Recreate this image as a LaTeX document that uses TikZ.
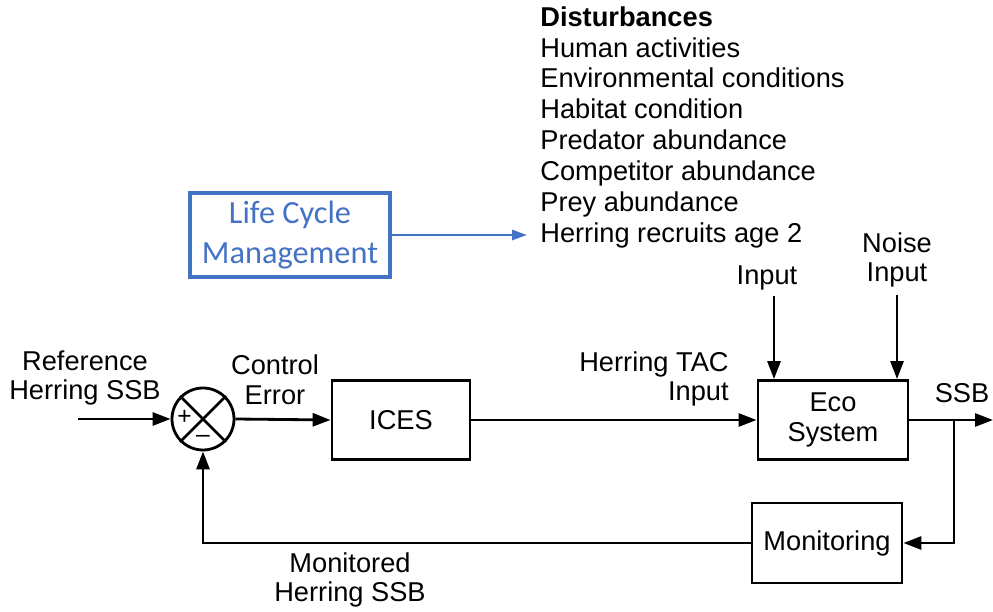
\documentclass[tikz,border=0pt]{standalone}
\usepackage{fontspec}
\setmainfont{Liberation Sans}
\newfontfamily\calibri{Carlito}
\usetikzlibrary{arrows.meta,positioning}
\definecolor{lcmblue}{RGB}{68,114,196}
\begin{document}
\begin{tikzpicture}[
  font=\fontsize{15.5}{17}\selectfont,
  blk/.style={draw, line width=1.6pt, align=center, minimum width=3cm, minimum height=1.58cm},
  lbl/.style={align=center, inner sep=0pt},
  sig/.style={line width=1.6pt, -{Triangle[length=0.36cm,width=0.26cm]}},
  ln/.style={line width=1.6pt}]
\useasboundingbox (0,0) rectangle (19.86,12.24);
% summing junction
\node[circle, draw, line width=1.6pt, minimum size=1.24cm, inner sep=0pt] (sum) at (4.06,3.86){};
\draw[ln](sum.north west) -- (sum.south east);
\draw[ln](sum.north east) -- (sum.south west);
\node[inner sep=0pt, font=\fontsize{14}{14}\selectfont] (plus) at (3.69,3.9){+};
\node[inner sep=0pt, font=\fontsize{14}{14}\selectfont] (minus) at (4.06,3.47){--};
\coordinate (refin) at (1.56,3.86);
\node[lbl] (ref) at (1.70,4.68){Reference\\Herring SSB};
\draw[sig](refin) -- (sum.west);
\node[lbl] (err) at (5.50,4.64){Control\\Error};
% forward path
\node[blk, minimum width=2.76cm] (ices) at (8.02,3.84){ICES};
\node[blk] (eco) at (16.66,3.84){Eco\\System};
\draw[sig](sum.east) -- (ices.west);
\draw[sig](ices.east) -- (eco.west);
\node[lbl, align=right, anchor=east] (tac) at (14.58,4.66){Herring TAC\\Input};
% disturbance inputs
\coordinate (inp) at (15.48,6.32);
\coordinate (noise) at (17.94,6.34);
\node[lbl] (inptxt) at (15.34,6.68){Input};
\node[lbl] (noisetxt) at (17.94,7.04){Noise\\Input};
\draw[sig](inp) -- (inp |- eco.north);
\draw[sig](noise) -- (noise |- eco.north);
% output and feedback
\coordinate (out) at (19.86,3.84);
\coordinate (branch) at (19.08,3.84);
\node[lbl] (ssb) at (19.24,4.38){SSB};
\draw[sig](eco.east) -- (out);
\node[blk, minimum height=1.6cm] (mon) at (16.54,1.38){Monitoring};
\draw[sig](branch) |- (mon.east);
\draw[sig](mon.west) -| (sum.south);
\node[lbl] (monssb) at (7.00,0.64){Monitored\\Herring SSB};
% disturbances list
\node[anchor=north west, align=left, inner sep=0pt, font=\fontsize{15.5}{17.6}\selectfont] (dist) at (10.80,12.12){%
\textbf{Disturbances}\\Human activities\\Environmental conditions\\Habitat condition\\Predator abundance\\Competitor abundance\\Prey abundance\\Herring recruits age 2};
% life cycle management
\node[draw=lcmblue, line width=1.8pt, text=lcmblue, align=center, minimum width=4cm, minimum height=1.68cm, font=\calibri\fontsize{18.4}{22.5}\selectfont] (lcm) at (5.80,7.54){Life Cycle\\Management};
\coordinate (lcmend) at (10.54,7.54);
\draw[lcmblue, line width=1.6pt, -{Triangle[length=0.3cm,width=0.2cm]}](lcm.east) -- (lcmend);
\end{tikzpicture}
\end{document}
